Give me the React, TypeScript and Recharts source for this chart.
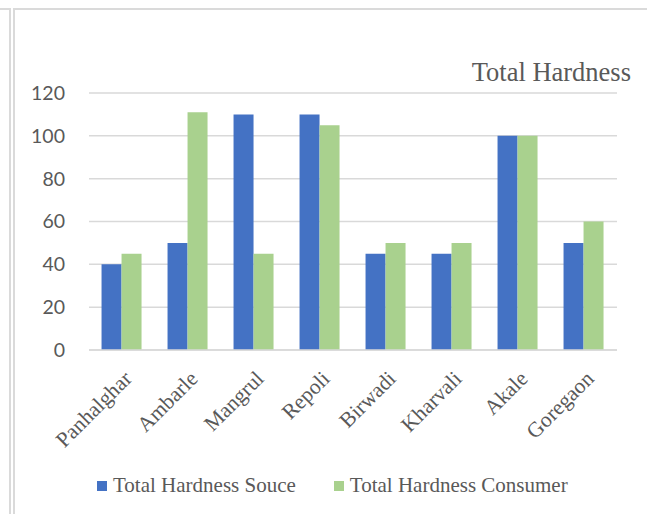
import React from "react";
import { BarChart, Bar, XAxis, YAxis, CartesianGrid } from "recharts";

const categories = ["Panhalghar", "Ambarle", "Mangrul", "Repoli", "Birwadi", "Kharvali", "Akale", "Goregaon"];
const sourceValues = [40, 50, 110, 110, 45, 45, 100, 50];
const consumerValues = [45, 111, 45, 105, 50, 50, 100, 60];
const yTicks = [0, 20, 40, 60, 80, 100, 120];

const SOURCE_NAME = "Total Hardness Souce";
const CONSUMER_NAME = "Total Hardness Consumer";
const BLUE = "#4472C4";
const GREEN = "#A9D18E";
const TEXT = "#595959";
const GRID = "#D9D9D9";
const SERIF = "'Liberation Serif', 'Times New Roman', serif";

const data = categories.map((c, i) => ({
  name: c,
  source: sourceValues[i],
  consumer: consumerValues[i],
}));

const CategoryTick = (props: any) => {
  const { x, y, payload } = props;
  return (
    <g transform={`translate(${x + 11},${y + 22})`}>
      <text
        x={0}
        y={0}
        textAnchor="end"
        transform="rotate(-45)"
        fill={TEXT}
        fontFamily={SERIF}
        fontSize={21.5}
      >
        {payload.value}
      </text>
    </g>
  );
};

const legendItems = [
  { name: SOURCE_NAME, color: BLUE },
  { name: CONSUMER_NAME, color: GREEN },
];

const LegendBlock = () => (
  <div
    style={{
      position: "absolute",
      left: 97,
      top: 475,
      display: "flex",
      alignItems: "center",
    }}
  >
    {legendItems.map((it, i) => (
      <div
        key={it.name}
        style={{ display: "flex", alignItems: "center", marginRight: i === 0 ? 38 : 0 }}
      >
        <div style={{ width: 10, height: 10, background: it.color, marginRight: 6 }} />
        <span
          style={{
            fontFamily: SERIF,
            fontSize: 21,
            lineHeight: "21px",
            color: TEXT,
            whiteSpace: "nowrap",
          }}
        >
          {it.name}
        </span>
      </div>
    ))}
  </div>
);

export default function App() {
  return (
    <div
      style={{
        position: "absolute",
        left: 0,
        top: 0,
        width: 647,
        height: 514,
        background: "#fff",
        overflow: "hidden",
      }}
    >
      <div style={{ position: "absolute", left: 0, top: 8, width: 11, height: 2, background: "#DADADA" }} />
      <div style={{ position: "absolute", left: 9, top: 8, width: 2, height: 506, background: "#DADADA" }} />
      <div style={{ position: "absolute", left: 13, top: 8, width: 2, height: 506, background: "#DADADA" }} />
      <div style={{ position: "absolute", left: 13, top: 8, width: 634, height: 2, background: "#DADADA" }} />
      <div
        style={{
          position: "absolute",
          right: 16,
          top: 59,
          fontFamily: SERIF,
          fontSize: 26.5,
          lineHeight: "26px",
          color: TEXT,
          whiteSpace: "nowrap",
        }}
      >
        Total Hardness
      </div>
      <div style={{ position: "absolute", left: 0, top: 0 }}>
        <BarChart
          width={647}
          height={514}
          data={data}
          margin={{ top: 93, right: 30, bottom: 84, left: 29 }}
          barCategoryGap="19%"
          barGap={0}
        >
          <CartesianGrid vertical={false} stroke={GRID} strokeWidth={1.5} />
          <XAxis
            dataKey="name"
            interval={0}
            tickLine={false}
            axisLine={{ stroke: GRID, strokeWidth: 1.5 }}
            tick={<CategoryTick />}
            height={80}
          />
          <YAxis
            width={60}
            domain={[0, 120]}
            ticks={yTicks}
            interval={0}
            axisLine={false}
            tickLine={false}
            tickSize={0}
            tickMargin={24}
            tick={{ fill: TEXT, fontFamily: "Lato, 'Open Sans', sans-serif", fontSize: 19.5 }}
          />
          <Bar dataKey="source" name={SOURCE_NAME} fill={BLUE} isAnimationActive={false} />
          <Bar dataKey="consumer" name={CONSUMER_NAME} fill={GREEN} isAnimationActive={false} />
        </BarChart>
      </div>
      <LegendBlock />
    </div>
  );
}
